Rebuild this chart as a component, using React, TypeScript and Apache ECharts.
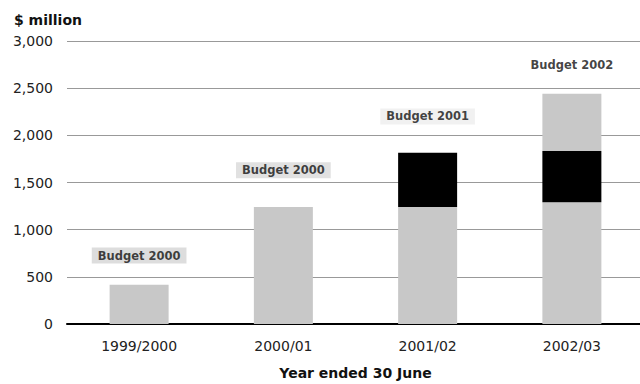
import React, { useEffect, useRef } from "react";
import * as echarts from "echarts";

const categories = ["1999/2000", "2000/01", "2001/02", "2002/03"];
const baseValues = [415, 1240, 1240, 1290];
const addedValues = [0, 0, 575, 545];
const topValues = [0, 0, 0, 605];
const budgetLabels = ["Budget 2000", "Budget 2000", "Budget 2001", "Budget 2002"];
const budgetLabelHeights = [725, 1630, 2200, 2750];
const yTicks = { min: 0, max: 3000, interval: 500 };

const labelBgs = ["#d4d4d4", "#dadada", "#eeeeee", "transparent"];

export default function App() {
  const ref = useRef<HTMLDivElement>(null);
  useEffect(() => {
    if (!ref.current) return;
    const chart = echarts.init(ref.current, null, { renderer: "svg" });
    const font = "DejaVu Sans";
    chart.setOption({
      animation: false,
      backgroundColor: "#ffffff",
      title: {
        text: "$ million",
        left: 9,
        top: 8,
        textStyle: { fontFamily: font, fontSize: 14, fontWeight: "bold", color: "#111" },
      },
      grid: {
        left: 67,
        width: 577,
        top: 41,
        bottom: 60,
        containLabel: false,
        outerBoundsMode: "none",
      },
      xAxis: {
        type: "category",
        data: categories,
        name: "Year ended 30 June",
        nameLocation: "middle",
        nameGap: 42,
        nameTextStyle: { fontFamily: font, fontSize: 14, fontWeight: "bold", color: "#111" },
        axisLine: { lineStyle: { color: "#000", width: 2 } },
        axisTick: { show: false },
        axisLabel: { fontFamily: font, fontSize: 14, color: "#222", margin: 15 },
      },
      yAxis: {
        type: "value",
        min: yTicks.min,
        max: yTicks.max,
        interval: yTicks.interval,
        axisLine: { show: false },
        axisTick: { show: false },
        axisLabel: {
          fontFamily: font,
          fontSize: 14,
          color: "#222",
          margin: 14,
          formatter: (v: number) => v.toLocaleString("en-US"),
        },
        splitLine: { lineStyle: { color: "#999", width: 1 } },
      },
      series: [
        {
          type: "bar",
          stack: "total",
          data: baseValues,
          barWidth: 59,
          itemStyle: { color: "#c8c8c8" },
        },
        {
          type: "bar",
          stack: "total",
          data: addedValues,
          barWidth: 59,
          itemStyle: { color: "#000000" },
        },
        {
          type: "bar",
          stack: "total",
          data: topValues,
          barWidth: 59,
          itemStyle: { color: "#c8c8c8" },
        },
        {
          type: "scatter",
          symbolSize: 0,
          silent: true,
          data: budgetLabelHeights.map((v, i) => ({
            value: v,
            label: { backgroundColor: labelBgs[i] },
          })),
          label: {
            show: true,
            position: "inside",
            formatter: (p: any) => budgetLabels[p.dataIndex],
            fontFamily: font,
            fontSize: 11.5,
            fontWeight: "bold",
            color: "#111",
            padding: [2, 6],
          },
        },
      ],
    });
    return () => chart.dispose();
  }, []);
  return (
    <div
      ref={ref}
      style={{ position: "absolute", left: 0, top: 0, width: 640, height: 384 }}
    />
  );
}
